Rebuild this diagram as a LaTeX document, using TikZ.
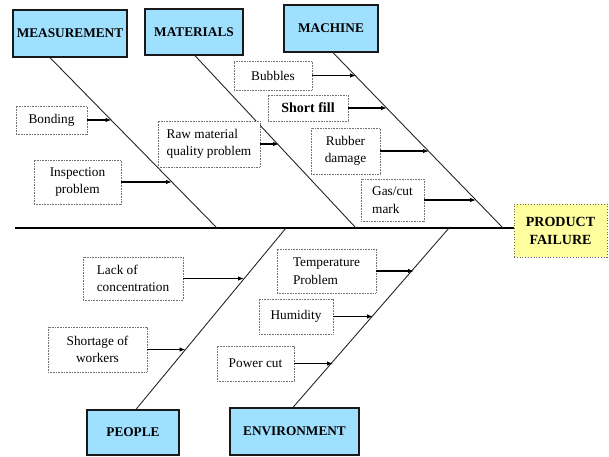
\documentclass[tikz,border=0pt]{standalone}
\usepackage{fontspec}
\setmainfont{Liberation Serif}
\usetikzlibrary{arrows.meta}
\definecolor{headblue}{RGB}{160,224,255}
\definecolor{pfyellow}{RGB}{255,255,160}
\begin{document}
\begin{tikzpicture}[x=1pt,y=-1pt,
  head/.style={draw=black!90, line width=1.3pt, fill=headblue, inner sep=0pt,
    font=\fontsize{13.3}{15}\selectfont\bfseries},
  pfbox/.style={draw=black!60, dotted, line width=0.8pt, fill=pfyellow, inner sep=0pt,
    align=center, font=\fontsize{14}{18}\selectfont\bfseries},
  cause/.style={draw=black!55, dash pattern=on 0.8pt off 0.8pt, line width=0.6pt, fill=white,
    inner sep=0pt, font=\fontsize{13.3}{17.5}\selectfont},
  bone/.style={line width=0.9pt, draw=black!85},
  spine/.style={line width=2.2pt, draw=black},
  arr/.style={line width=1.1pt, draw=black, -{Latex[length=6pt,width=4.5pt]}},
]
\useasboundingbox (0,0) rectangle (609,456);

% category heads
\node[head, minimum width=114pt, minimum height=47pt] (meas) at (70,33.5) {MEASUREMENT};
\node[head, minimum width=98pt, minimum height=46pt] (mat) at (194,32) {MATERIALS};
\node[head, minimum width=94pt, minimum height=47pt] (mach) at (331,28.5) {MACHINE};
\node[head, minimum width=92pt, minimum height=45pt] (peop) at (133,432.5) {PEOPLE};
\node[head, minimum width=129pt, minimum height=47pt] (env) at (294.5,431.5) {ENVIRONMENT};
\node[pfbox, minimum width=93pt, minimum height=53pt] (pf) at (560.5,230.5) {PRODUCT\\FAILURE};

% spine and bones
\coordinate (tail) at (15,228);
\coordinate (bm) at (217,228);
\coordinate (bma) at (356,228);
\coordinate (bmc) at (503,228);
\coordinate (bp) at (286,228);
\coordinate (be) at (449,228);
\draw[spine] (tail) -- (tail -| pf.west);
\draw[bone] ([xshift=-20pt]meas.south) -- (bm);
\draw[bone] ([xshift=1pt]mat.south) -- (bma);
\draw[bone] ([xshift=2pt]mach.south) -- (bmc);
\draw[bone] ([xshift=3pt]peop.north) -- (bp);
\draw[bone] ([xshift=-1.5pt]env.north) -- (be);

% causes
\node[cause, minimum width=71pt, minimum height=28pt] (bond) at (51.5,120) {Bonding};
\node[cause, minimum width=87pt, minimum height=44pt, align=center] (insp) at (77.5,182) {Inspection\\problem};
\node[cause, minimum width=102pt, minimum height=46pt, align=left] (raw) at (209,144) {Raw material\\quality problem};
\node[cause, minimum width=78pt, minimum height=29pt] (bub) at (273,75.5) {Bubbles};
\node[cause, minimum width=80pt, minimum height=26pt, font=\fontsize{14}{17}\selectfont\bfseries] (short) at (308,108) {Short fill};
\node[cause, minimum width=69pt, minimum height=46pt, align=center] (rub) at (345.5,151) {Rubber\\damage};
\node[cause, minimum width=63pt, minimum height=42pt, align=left] (gas) at (392.5,200) {Gas/cut\\mark};
\node[cause, minimum width=100pt, minimum height=43pt, align=left] (lack) at (133,278.5) {Lack of\\concentration};
\node[cause, minimum width=99pt, minimum height=45pt, align=center] (shrt) at (97.5,349.5) {Shortage of\\workers};
\node[cause, minimum width=99pt, minimum height=44pt, align=left] (temp) at (326.5,271) {Temperature\\Problem};
\node[cause, minimum width=74pt, minimum height=35pt] (hum) at (296,316.5) {Humidity};
\node[cause, minimum width=77pt, minimum height=35pt] (pow) at (255.5,363.5) {Power cut};

% arrow targets on bones
\coordinate (t1) at (111.5,120);
\coordinate (t2) at (172,182);
\coordinate (t3) at (279,144);
\coordinate (t4) at (356,75.5);
\coordinate (t5) at (387,108);
\coordinate (t6) at (429,151);
\coordinate (t7) at (476,200);
\coordinate (t8) at (244,278.5);
\coordinate (t9) at (185.5,349.5);
\coordinate (t10) at (414,271);
\coordinate (t11) at (373,316.5);
\coordinate (t12) at (333,363.5);

\draw[arr] (bond.east) -- (t1);
\draw[arr] (insp.east) -- (t2);
\draw[arr] (raw.east) -- (t3);
\draw[arr] (bub.east) -- (t4);
\draw[arr] (short.east) -- (t5);
\draw[arr] (rub.east) -- (t6);
\draw[arr] (gas.east) -- (t7);
\draw[arr] (lack.east) -- (t8);
\draw[arr] (shrt.east) -- (t9);
\draw[arr] (temp.east) -- (t10);
\draw[arr] (hum.east) -- (t11);
\draw[arr] (pow.east) -- (t12);
\end{tikzpicture}
\end{document}
